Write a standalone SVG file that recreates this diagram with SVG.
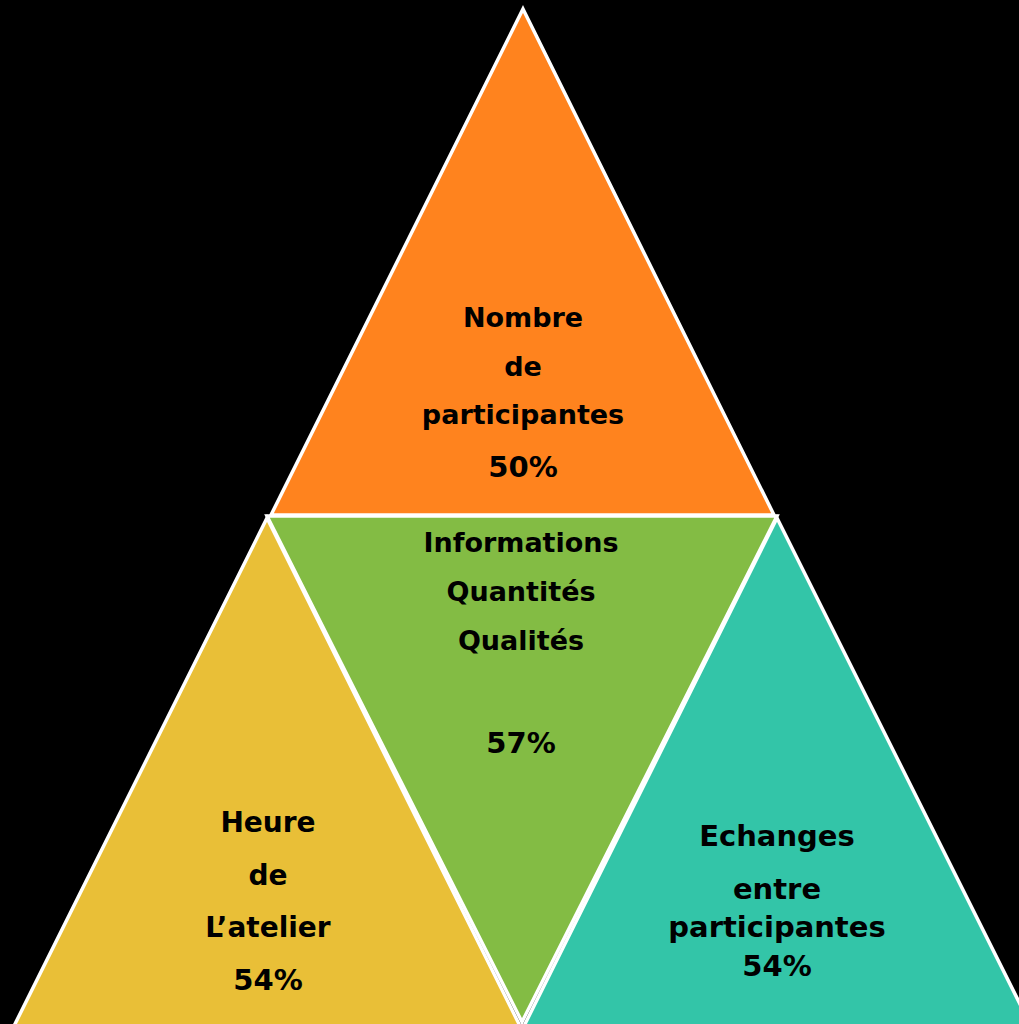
<svg xmlns="http://www.w3.org/2000/svg" width="1019" height="1024" viewBox="0 0 1019 1024">
<style>
.tri{stroke:#fff;stroke-width:3.5;stroke-linejoin:miter}
.t{font-family:"DejaVu Sans","Liberation Sans",sans-serif;font-weight:bold;font-size:27px;fill:#000;text-anchor:middle}
.p{font-size:29px}
.l{font-size:28px}
.r{font-size:29px}
</style>
<rect width="1019" height="1024" fill="#000"/>
<g id="node-top">
<polygon class="tri" fill="#FF831E" points="523,9 774,515 271,515"/>
<text class="t" x="523" y="327">Nombre</text>
<text class="t" x="523" y="376">de</text>
<text class="t" x="523" y="424">participantes</text>
<text class="t p" x="523" y="477">50%</text>
</g>
<g id="node-center">
<polygon class="tri" fill="#83BC44" points="267,516 777,516 522,1022"/>
<text class="t" x="521" y="552">Informations</text>
<text class="t" x="521" y="601">Quantités</text>
<text class="t" x="521" y="650">Qualités</text>
<text class="t p" x="521" y="753">57%</text>
</g>
<g id="node-left">
<polygon class="tri" fill="#E9BF37" points="267,518 521,1028 13,1028"/>
<text class="t l" x="268" y="832">Heure</text>
<text class="t l" x="268" y="885">de</text>
<text class="t l" x="268" y="937">L’atelier</text>
<text class="t p" x="268" y="990">54%</text>
</g>
<g id="node-right">
<polygon class="tri" fill="#33C5A8" points="777,518 1032,1028 523,1028"/>
<text class="t r" x="777" y="846">Echanges</text>
<text class="t r" x="777" y="899">entre</text>
<text class="t r" x="777" y="937">participantes</text>
<text class="t p" x="777" y="976">54%</text>
</g>
<g id="connectors"></g>
</svg>
